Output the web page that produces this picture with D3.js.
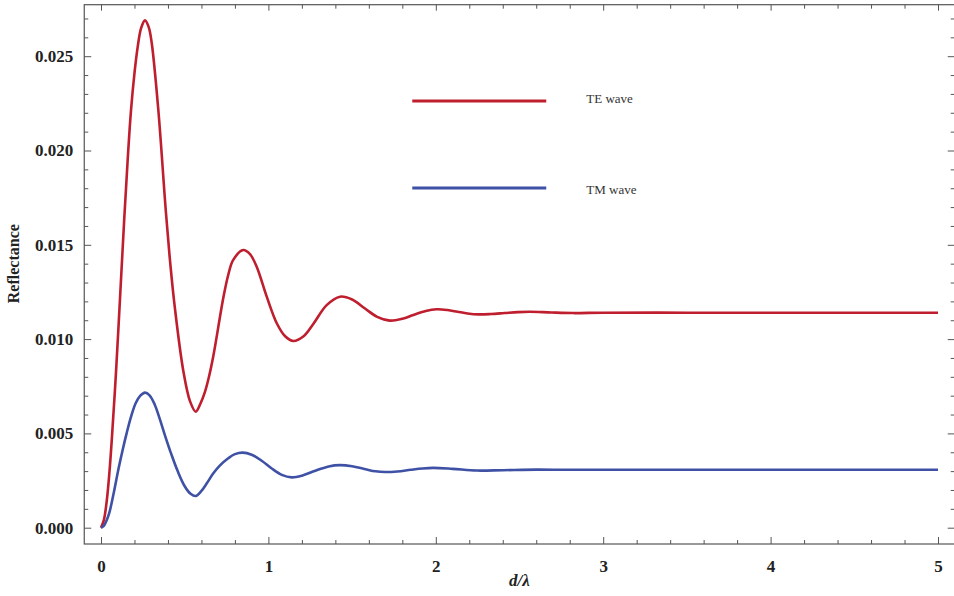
<!DOCTYPE html>
<html>
<head>
<meta charset="utf-8">
<script src="https://cdn.jsdelivr.net/npm/d3@7"></script>
<style>
  html, body { margin: 0; padding: 0; background: #fff; }
  svg { display: block; }
</style>
</head>
<body>
<svg id="chart" width="954" height="596"></svg>
<script>
// Reflectance of a thin layer versus thickness (d/λ) for TE and TM polarisation
const teD = [0, 0.017, 0.034, 0.05, 0.064, 0.09, 0.115, 0.139, 0.16, 0.179, 0.2, 0.219, 0.24, 0.263,
             0.285, 0.303, 0.342, 0.388, 0.415, 0.442, 0.492, 0.532, 0.566, 0.595, 0.621, 0.645, 0.671, 0.731,
             0.76, 0.79, 0.85, 0.89, 0.93, 0.99, 1.05, 1.10, 1.149, 1.21, 1.268, 1.348, 1.428, 1.50,
             1.577, 1.65, 1.726, 1.80, 1.866, 1.94, 2.005, 2.07, 2.13, 2.19, 2.254, 2.33, 2.41, 2.49,
             2.563, 2.69, 2.82, 3.0, 3.5, 4.0, 5.0];
const teR = [0, 0.0004, 0.0014, 0.0029, 0.0046, 0.0083, 0.0124, 0.0164, 0.0196, 0.0221, 0.0241, 0.02548, 0.0265, 0.0269,
             0.02654, 0.0257, 0.0222, 0.0167, 0.0139, 0.0116, 0.0083, 0.0067, 0.00615, 0.0066, 0.0072, 0.0080, 0.0091, 0.0122,
             0.0134, 0.0142, 0.01472, 0.0145, 0.01384, 0.01225, 0.01084, 0.01015, 0.0099, 0.01015, 0.0108, 0.0118, 0.01225, 0.0121,
             0.01162, 0.01118, 0.01098, 0.01108, 0.01128, 0.01149, 0.01158, 0.01154, 0.01145, 0.01136, 0.01131, 0.01133, 0.01138, 0.01143,
             0.01145, 0.01141, 0.01138, 0.0114, 0.0114, 0.0114, 0.0114];

const tmD = [0, 0.017, 0.034, 0.05, 0.075, 0.104, 0.13, 0.153, 0.18, 0.207, 0.235, 0.263, 0.29, 0.32,
             0.35, 0.382, 0.42, 0.458, 0.50, 0.535, 0.566, 0.60, 0.631, 0.67, 0.711, 0.76, 0.80, 0.846,
             0.90, 0.96, 1.02, 1.08, 1.139, 1.20, 1.28, 1.36, 1.428, 1.50, 1.58, 1.64, 1.697, 1.77,
             1.85, 1.92, 1.985, 2.1, 2.245, 2.4, 2.6, 2.8, 3.5, 5.0];
const tmR = [0, 0.0001, 0.0004, 0.0008, 0.0018, 0.0031, 0.00415, 0.0050, 0.0059, 0.0066, 0.0070, 0.00716, 0.00702, 0.00655,
             0.0058, 0.0049, 0.0039, 0.0030, 0.0022, 0.0018, 0.00168, 0.00195, 0.00234, 0.00287, 0.0033, 0.00368, 0.0039, 0.00398,
             0.00387, 0.00355, 0.00314, 0.0028, 0.00267, 0.00276, 0.00302, 0.00325, 0.00332, 0.00326, 0.0031, 0.00299, 0.00295, 0.00298,
             0.00307, 0.00314, 0.00317, 0.00312, 0.00303, 0.00305, 0.00308, 0.00307, 0.00307, 0.00307];

const series = [
  { name: "TE wave", d: teD, r: teR, color: "#be1e2d" },
  { name: "TM wave", d: tmD, r: tmR, color: "#3f51a5" }
];

const xMajor = [0, 1, 2, 3, 4, 5];
const yMajor = [0, 0.005, 0.010, 0.015, 0.020, 0.025];

const svg = d3.select("#chart");

const x = d3.scaleLinear().domain([0, 5]).range([101, 938]);
const y = d3.scaleLinear().domain([0, 0.025]).range([527.7, 56.2]);

// frame extents (padded around the data range)
const yLow = y.invert(544), yHigh = y.invert(4.7);
const frameL = x(-0.1), frameR = x(5.1), frameT = y(yHigh), frameB = y(yLow);

const xMinor = d3.range(0, 5.0001, 0.2).filter(v => Math.abs(v - Math.round(v)) > 1e-6);
const yMinor = d3.range(0, 0.02701, 0.001).filter(v => Math.abs(v / 0.005 - Math.round(v / 0.005)) > 1e-6);

const axisColor = "#555";
const serif = "'Liberation Serif', 'Times New Roman', serif";

function styleAxis(g) {
  g.select(".domain").remove();
  g.selectAll(".tick line").attr("stroke", axisColor).attr("stroke-width", 1);
  g.selectAll(".tick text")
    .attr("font-family", serif)
    .attr("font-weight", "bold")
    .attr("font-size", 17)
    .attr("fill", "#222");
}

// bottom axis
svg.append("g").attr("transform", `translate(0,${frameB})`)
  .call(d3.axisBottom(x).tickValues(xMajor).tickSize(-7).tickPadding(16).tickFormat(d3.format("d")))
  .call(styleAxis);
svg.append("g").attr("transform", `translate(0,${frameB})`)
  .call(d3.axisBottom(x).tickValues(xMinor).tickSize(-4).tickFormat(""))
  .call(styleAxis);
// top axis (mirror ticks)
svg.append("g").attr("transform", `translate(0,${frameT})`)
  .call(d3.axisTop(x).tickValues(xMajor).tickSize(-6).tickFormat(""))
  .call(styleAxis);
svg.append("g").attr("transform", `translate(0,${frameT})`)
  .call(d3.axisTop(x).tickValues(xMinor).tickSize(-4).tickFormat(""))
  .call(styleAxis);

// left axis
svg.append("g").attr("transform", `translate(${frameL},0)`)
  .call(d3.axisLeft(y).tickValues(yMajor).tickSize(-7).tickPadding(11).tickFormat(d3.format(".3f")))
  .call(styleAxis);
svg.append("g").attr("transform", `translate(${frameL},0)`)
  .call(d3.axisLeft(y).tickValues(yMinor).tickSize(-4).tickFormat(""))
  .call(styleAxis);
// right axis (mirror ticks)
svg.append("g").attr("transform", `translate(${frameR},0)`)
  .call(d3.axisRight(y).tickValues(yMajor).tickSize(-7).tickFormat(""))
  .call(styleAxis);
svg.append("g").attr("transform", `translate(${frameR},0)`)
  .call(d3.axisRight(y).tickValues(yMinor).tickSize(-4).tickFormat(""))
  .call(styleAxis);

// frame
svg.append("rect")
  .attr("x", frameL).attr("y", frameT)
  .attr("width", frameR - frameL).attr("height", frameB - frameT)
  .attr("fill", "none").attr("stroke", axisColor).attr("stroke-width", 1.2);

// curves
const line = d3.line()
  .x(d => x(d[0]))
  .y(d => y(d[1]))
  .curve(d3.curveCatmullRom.alpha(0.5));

svg.append("g").selectAll("path")
  .data(series)
  .join("path")
  .attr("d", s => line(s.d.map((v, i) => [v, s.r[i]])))
  .attr("fill", "none")
  .attr("stroke", s => s.color)
  .attr("stroke-width", 2.6)
  .attr("stroke-linejoin", "round");

// legend
const legend = svg.append("g").attr("transform", `translate(${frameL + 328},101)`);
const item = legend.selectAll("g").data(series).join("g")
  .attr("transform", (d, i) => `translate(0,${i * 87})`);
item.append("line")
  .attr("x1", 0).attr("x2", 134)
  .attr("stroke", d => d.color).attr("stroke-width", 2.8);
item.append("text")
  .attr("x", 174).attr("y", (d, i) => i === 0 ? -3 : 1)
  .attr("dy", "0.35em")
  .attr("font-family", serif)
  .attr("font-size", 13)
  .attr("fill", "#333")
  .text(d => d.name);

// axis titles
svg.append("text")
  .attr("transform", `translate(19,${y(0.0140)}) rotate(-90)`)
  .attr("text-anchor", "middle")
  .attr("font-family", serif)
  .attr("font-weight", "bold")
  .attr("font-size", 16)
  .attr("fill", "#222")
  .text("Reflectance");

svg.append("text")
  .attr("x", x(2.5)).attr("y", 586)
  .attr("text-anchor", "middle")
  .attr("font-family", serif)
  .attr("font-weight", "bold")
  .attr("font-style", "italic")
  .attr("font-size", 17)
  .attr("fill", "#222")
  .text("d/λ");
</script>
</body>
</html>
